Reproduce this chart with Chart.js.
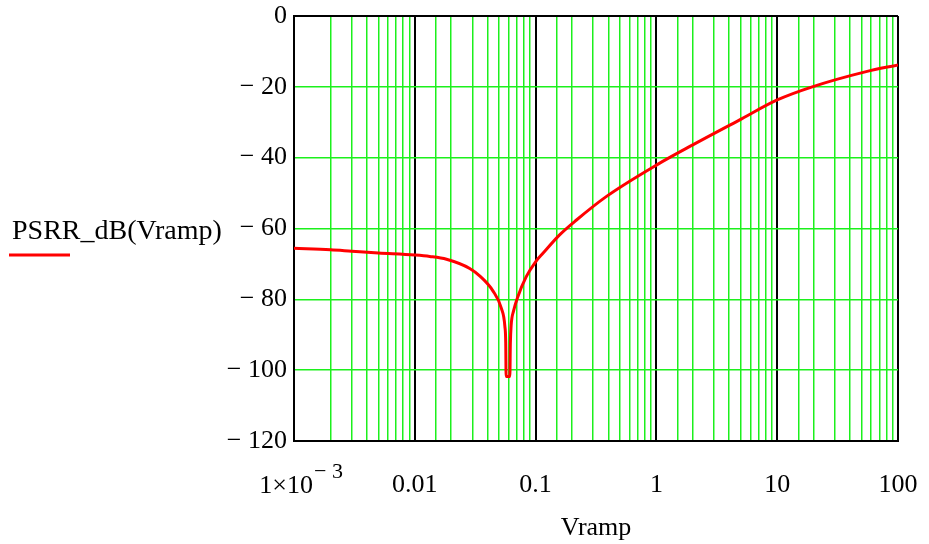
<!DOCTYPE html>
<html>
<head>
<meta charset="utf-8">
<script src="https://cdn.jsdelivr.net/npm/chart.js@4"></script>
<style>
  html, body { margin: 0; padding: 0; background: #fff; }
  #wrap { width: 929px; height: 544px; }
</style>
</head>
<body>
<div id="wrap"><canvas id="psrrChart" width="929" height="544"></canvas></div>
<script>
// values
const vramp = [0.001, 0.002, 0.003, 0.005, 0.01, 0.0133, 0.0183, 0.0285, 0.035, 0.0443, 0.052, 0.0557,
  0.0566, 0.0570, 0.0612, 0.0618, 0.0627, 0.0658, 0.0714, 0.0837, 0.1, 0.115, 0.158, 0.218, 0.384,
  1, 2, 4.85, 10, 19.5, 54.5, 100];
const psrrDb = [-65.6, -66.0, -66.4, -66.9, -67.5, -67.9, -68.7, -71.3, -73.6, -77.6, -82.5, -87.7,
  -92.3, -101.8, -101.8, -92.5, -87.5, -83.2, -79.2, -73.6, -69.4, -67.0, -61.8, -57.6, -51.0,
  -42.1, -36.4, -29.4, -23.7, -20.0, -15.7, -13.8];
const xTickLabels = { 0.01: "0.01", 0.1: "0.1", 1: "1", 10: "10", 100: "100" };
const yTicks = [0, -20, -40, -60, -80, -100, -120];

const FONT = "'Liberation Serif', 'Times New Roman', serif";

// 📝 y title, legend stroke and the 1×10^-3 label
const extras = {
  id: "extras",
  afterDraw(c) {
    const ctx = c.ctx;
    ctx.save();
    ctx.fillStyle = "#000";
    ctx.textBaseline = "alphabetic";
    ctx.textAlign = "left";
    ctx.font = "28px " + FONT;
    ctx.fillText("PSRR_dB(Vramp)", 12, 239);
    ctx.strokeStyle = "#ff0000";
    ctx.lineWidth = 3;
    ctx.beginPath();
    ctx.moveTo(9, 255);
    ctx.lineTo(70, 255);
    ctx.stroke();

    const x0 = c.scales.x.getPixelForValue(0.001);
    ctx.font = "26px " + FONT;
    ctx.textAlign = "right";
    ctx.fillText("1\u00d710", x0 + 19, 493);
    ctx.font = "22px " + FONT;
    ctx.textAlign = "left";
    ctx.fillText("\u2212 3", x0 + 20, 478);
    ctx.restore();
  }
};

const isDecade = v => Math.abs(Math.log10(v) - Math.round(Math.log10(v))) < 1e-6;

new Chart(document.getElementById("psrrChart"), {
  type: "scatter",
  data: {
    datasets: [{
      label: "PSRR_dB(Vramp)",
      data: vramp.map((v, i) => ({ x: v, y: psrrDb[i] })),
      showLine: true,
      borderColor: "#ff0000",
      borderWidth: 3,
      pointRadius: 0,
      cubicInterpolationMode: "monotone"
    }]
  },
  options: {
    responsive: false,
    animation: false,
    layout: { padding: { top: 16, right: 31, left: 0, bottom: 0 } },
    plugins: { legend: { display: false }, tooltip: { enabled: false } },
    scales: {
      x: {
        type: "logarithmic",
        min: 0.001,
        max: 100,
        afterFit: s => { s.height = 103; s.paddingLeft = 0; s.paddingRight = 0; },
        border: { color: "#000", width: 2 },
        grid: {
          drawTicks: false,
          color: ctx => (ctx.tick && isDecade(ctx.tick.value)) ? "#000" : "#1cf01c",
          lineWidth: ctx => (ctx.tick && isDecade(ctx.tick.value)) ? 2 : 1.5
        },
        ticks: {
          autoSkip: false,
          maxRotation: 0,
          padding: 29,
          color: "#000",
          font: { family: FONT, size: 26 },
          callback: v => {
            for (const k in xTickLabels) {
              if (Math.abs(v - Number(k)) / v < 1e-6) return xTickLabels[k];
            }
            return "";
          }
        },
        title: {
          display: true,
          text: "Vramp",
          color: "#000",
          font: { family: FONT, size: 26 },
          padding: { top: 0, bottom: 0 }
        }
      },
      y: {
        min: -120,
        max: 0,
        afterFit: s => { s.width = 294; s.paddingTop = 0; s.paddingBottom = 0; },
        afterBuildTicks: s => { s.ticks = yTicks.map(v => ({ value: v })); },
        border: { color: "#000", width: 2 },
        grid: {
          drawTicks: false,
          color: ctx => (ctx.tick && (ctx.tick.value === 0 || ctx.tick.value === -120)) ? "#000" : "#1cf01c",
          lineWidth: ctx => (ctx.tick && (ctx.tick.value === 0 || ctx.tick.value === -120)) ? 2 : 1.5
        },
        ticks: {
          padding: 7,
          color: "#000",
          font: { family: FONT, size: 26 },
          callback: v => v === 0 ? "0" : "\u2212 " + Math.abs(v)
        }
      }
    }
  },
  plugins: [extras]
});
</script>
</body>
</html>
